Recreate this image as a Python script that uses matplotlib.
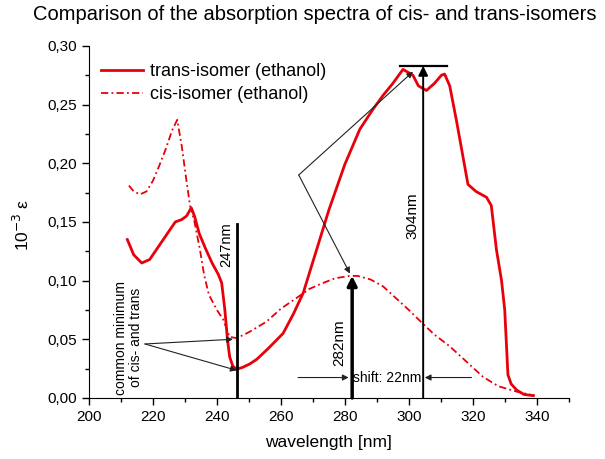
import matplotlib
matplotlib.use('Agg')
import matplotlib.pyplot as plt
from matplotlib.ticker import FuncFormatter, MultipleLocator

plt.rcParams['font.family'] = ['Liberation Sans', 'DejaVu Sans']

# spectra (wavelength in nm, 10^-3 epsilon)
trans_wl = [212, 214, 216.5, 219, 222, 225, 227, 229, 230.5, 232, 233, 234.5, 236.5,
            238.5, 240.5, 241.5, 242.5, 243.3, 244, 245, 246.2, 248, 250.3, 252.5, 256,
            260.7, 264, 267, 271.2, 275, 280, 284.7, 288.8, 292, 295, 298.2, 301.3, 303,
            305.5, 308, 310.2, 311.2, 312.8, 315, 318.5, 321, 324.3, 325.8, 327.4, 329,
            330, 331, 332, 333.7, 336, 338.9]
trans_val = [0.135, 0.122, 0.115, 0.118, 0.130, 0.142, 0.150, 0.152, 0.155, 0.162, 0.155,
             0.140, 0.127, 0.115, 0.105, 0.098, 0.075, 0.050, 0.035, 0.027, 0.0245, 0.026,
             0.029, 0.033, 0.042, 0.055, 0.072, 0.0895, 0.1265, 0.160, 0.199, 0.229, 0.246,
             0.258, 0.268, 0.280, 0.275, 0.266, 0.262, 0.268, 0.275, 0.276, 0.266, 0.235,
             0.182, 0.176, 0.171, 0.164, 0.1265, 0.100, 0.075, 0.0197, 0.012, 0.0068,
             0.003, 0.002]

cis_wl = [212.5, 214, 216, 218, 220, 222, 224, 226, 227.6, 229, 230.5, 231.6, 233, 234.7,
          236, 237.5, 240, 242, 244, 246.2, 250, 255.5, 260, 264.8, 269, 273.2, 277, 281.6,
          284, 288, 292, 296, 300, 304.5, 308, 312.8, 318, 323.2, 328, 333.7, 339.4]
cis_val = [0.181, 0.176, 0.1735, 0.176, 0.185, 0.198, 0.212, 0.228, 0.237, 0.215, 0.185,
           0.164, 0.150, 0.1265, 0.105, 0.088, 0.075, 0.0667, 0.052, 0.051, 0.056, 0.065,
           0.076, 0.085, 0.093, 0.098, 0.102, 0.104, 0.104, 0.101, 0.095, 0.085, 0.075,
           0.063, 0.054, 0.044, 0.031, 0.018, 0.010, 0.0054, 0.002]

red = '#e8000b'

fig = plt.figure(figsize=(6.05, 4.59), dpi=100)
ax = fig.add_axes([0.147, 0.133, 0.793, 0.767])

ax.plot(trans_wl, trans_val, color=red, lw=2, label='trans-isomer (ethanol)')
ax.plot(cis_wl, cis_val, color=red, lw=1.3, ls=(0, (4, 1.8, 1, 1.8)), label='cis-isomer (ethanol)')

ax.set_xlim(200, 350)
ax.set_ylim(0, 0.30)
ax.spines['top'].set_visible(False)
ax.spines['right'].set_visible(False)
ax.xaxis.set_major_locator(MultipleLocator(20))
ax.xaxis.set_minor_locator(MultipleLocator(10))
ax.yaxis.set_major_locator(MultipleLocator(0.05))
ax.yaxis.set_minor_locator(MultipleLocator(0.025))
ax.yaxis.set_major_formatter(FuncFormatter(lambda v, p: f'{v:.2f}'.replace('.', ',')))
ax.tick_params(which='major', length=5, width=1, labelsize=11)
ax.tick_params(which='minor', length=3, width=1)

ax.legend(loc='upper left', bbox_to_anchor=(0.026, 0.951), frameon=False, fontsize=13,
          handlelength=2.3, handletextpad=0.4, borderaxespad=0, borderpad=0, labelspacing=0.35)

# annotations
k = 'black'
ax.plot([297.2, 311.8], [0.283, 0.283], color=k, lw=1.6)
ax.annotate('', xy=(304.5, 0.283), xytext=(304.5, 0),
            arrowprops=dict(arrowstyle='-|>', color=k, lw=1.4, mutation_scale=14, shrinkA=0, shrinkB=0))
ax.text(301.3, 0.155, '304nm', rotation=90, ha='center', va='center', fontsize=11)

ax.plot([246.2, 246.2], [0, 0.148], color=k, lw=2)
ax.text(243.0, 0.131, '247nm', rotation=90, ha='center', va='center', fontsize=10.5)

ax.annotate('', xy=(282.3, 0.104), xytext=(282.3, 0),
            arrowprops=dict(arrowstyle='-|>', color=k, lw=2.5, mutation_scale=14, shrinkA=0, shrinkB=0))
ax.text(278.4, 0.047, '282nm', rotation=90, ha='center', va='center', fontsize=11)

ax.text(293.2, 0.0174, 'shift: 22nm', ha='center', va='center', fontsize=10)
thin = dict(arrowstyle='-|>', color='#222222', lw=0.8, mutation_scale=9, shrinkA=0, shrinkB=0)
ax.annotate('', xy=(281.2, 0.0174), xytext=(265.4, 0.0174), arrowprops=thin)
ax.annotate('', xy=(305.0, 0.0174), xytext=(319.6, 0.0174), arrowprops=thin)

ax.text(212.5, 0.0515, 'common minimum\nof cis- and trans', rotation=90, ha='center',
        va='center', multialignment='center', fontsize=10, linespacing=1.1)
ax.annotate('', xy=(245.0, 0.050), xytext=(217.5, 0.046), arrowprops=thin)
ax.annotate('', xy=(246.2, 0.0235), xytext=(217.5, 0.046), arrowprops=thin)

ax.annotate('', xy=(301.3, 0.278), xytext=(265.6, 0.190), arrowprops=thin)
ax.annotate('', xy=(281.6, 0.106), xytext=(265.6, 0.190), arrowprops=thin)

ax.set_xlabel('wavelength [nm]', fontsize=12.5, labelpad=8)
fig.text(0.036, 0.51, r'10$^{-3}$ ε', rotation=90, ha='center', va='center', fontsize=12.5)
fig.text(0.52, 0.968, 'Comparison of the absorption spectra of cis- and trans-isomers',
         ha='center', va='center', fontsize=14.5)

fig.savefig('out.png', dpi=100)
